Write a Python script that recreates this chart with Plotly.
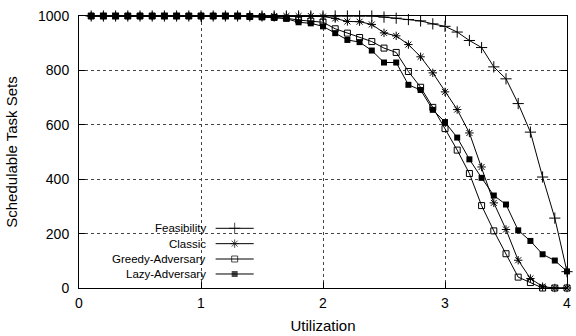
import plotly.graph_objects as go

# ---------------- data ----------------
utilization = [round(0.1 * i, 1) for i in range(1, 41)]

feasibility = [1000] * 24 + [996, 992, 987, 982, 971, 962, 941, 910, 884, 813,
                             769, 678, 573, 408, 257, 60]
classic = [1000] * 19 + [998, 991, 980, 979, 969, 938, 927, 895, 850, 791, 721,
                         656, 570, 445, 313, 215, 102, 35, 5, 0, 0]
greedy = [1000] * 13 + [998, 997, 995, 992, 985, 981, 977, 953, 937, 921, 906,
                        882, 866, 796, 738, 664, 586, 507, 421, 303, 210, 126,
                        40, 20, 0, 0, 0]
lazy = [1000] * 13 + [997, 996, 994, 990, 977, 973, 962, 937, 912, 904, 873,
                      829, 829, 747, 728, 655, 610, 553, 473, 405, 340, 307,
                      212, 173, 124, 101, 61]

series_names = ["Feasibility", "Classic", "Greedy-Adversary", "Lazy-Adversary"]
series_values = [feasibility, classic, greedy, lazy]

x_ticks = [0, 1, 2, 3, 4]
y_ticks = [0, 200, 400, 600, 800, 1000]

# ---------------- style ----------------
FONT = "Liberation Sans, Arial, sans-serif"
styles = [
    dict(symbol="cross-thin", size=8, color="black", line=dict(color="black", width=1)),
    dict(symbol="asterisk", size=7, color="black", line=dict(color="black", width=1)),
    dict(symbol="square-open", size=6, color="black", line=dict(color="black", width=1)),
    dict(symbol="square", size=6, color="black", line=dict(color="black", width=0)),
]

fig = go.Figure()
for name, vals, st in zip(series_names, series_values, styles):
    fig.add_trace(go.Scatter(
        x=utilization, y=vals, name=name, mode="lines+markers",
        line=dict(color="black", width=1), marker=st, showlegend=False,
        cliponaxis=False,
    ))

# custom legend (gnuplot style: text on the left, sample on the right)
leg_rows = [0.2195, 0.163, 0.1066, 0.0515]
leg_text_x = 0.2636
leg_line = [0.28, 0.319, 0.358]
for name, st, yr in zip(series_names, styles, leg_rows):
    m = dict(st)
    m["size"] = [0, st["size"], 0]
    fig.add_trace(go.Scatter(
        x=leg_line, y=[yr] * 3, xaxis="x2", yaxis="y2", mode="lines+markers",
        line=dict(color="black", width=1), marker=m, showlegend=False,
        hoverinfo="skip", cliponaxis=False,
    ))
    fig.add_annotation(
        x=leg_text_x, y=yr, xref="x2", yref="y2", text=name, showarrow=False,
        xanchor="right", yanchor="middle",
        font=dict(family=FONT, size=11.5, color="black"),
    )

axis_common = dict(
    showline=True, linecolor="black", linewidth=1, mirror="ticks",
    ticks="inside", ticklen=6, tickcolor="black", tickwidth=1,
    showgrid=True, gridcolor="#444", griddash="dot", gridwidth=1,
    zeroline=False, tickfont=dict(family=FONT, size=14, color="black"),
    ticklabeloverflow="allow",
)

fig.update_layout(
    width=576, height=336,
    margin=dict(l=79, r=9, t=16, b=48, autoexpand=False),
    paper_bgcolor="white", plot_bgcolor="white",
    font=dict(family=FONT, color="black"),
    xaxis=dict(range=[0, 4], tickvals=x_ticks, ticklabelstandoff=2, **axis_common,
               title=dict(text="Utilization", font=dict(family=FONT, size=15), standoff=10)),
    yaxis=dict(range=[0, 1000], tickvals=y_ticks, ticklabelstandoff=6, **axis_common,
               title=dict(text="Schedulable Task Sets", font=dict(family=FONT, size=15), standoff=16)),
    xaxis2=dict(range=[0, 1], overlaying="x", visible=False, fixedrange=True),
    yaxis2=dict(range=[0, 1], overlaying="y", visible=False, fixedrange=True),
)

# remove the browser's default 8px body margin so the figure fills the window
fig.write_html(
    "out.html",
    config={"displayModeBar": False},
    post_script="document.body.style.margin='0';document.body.style.overflow='hidden';",
)
